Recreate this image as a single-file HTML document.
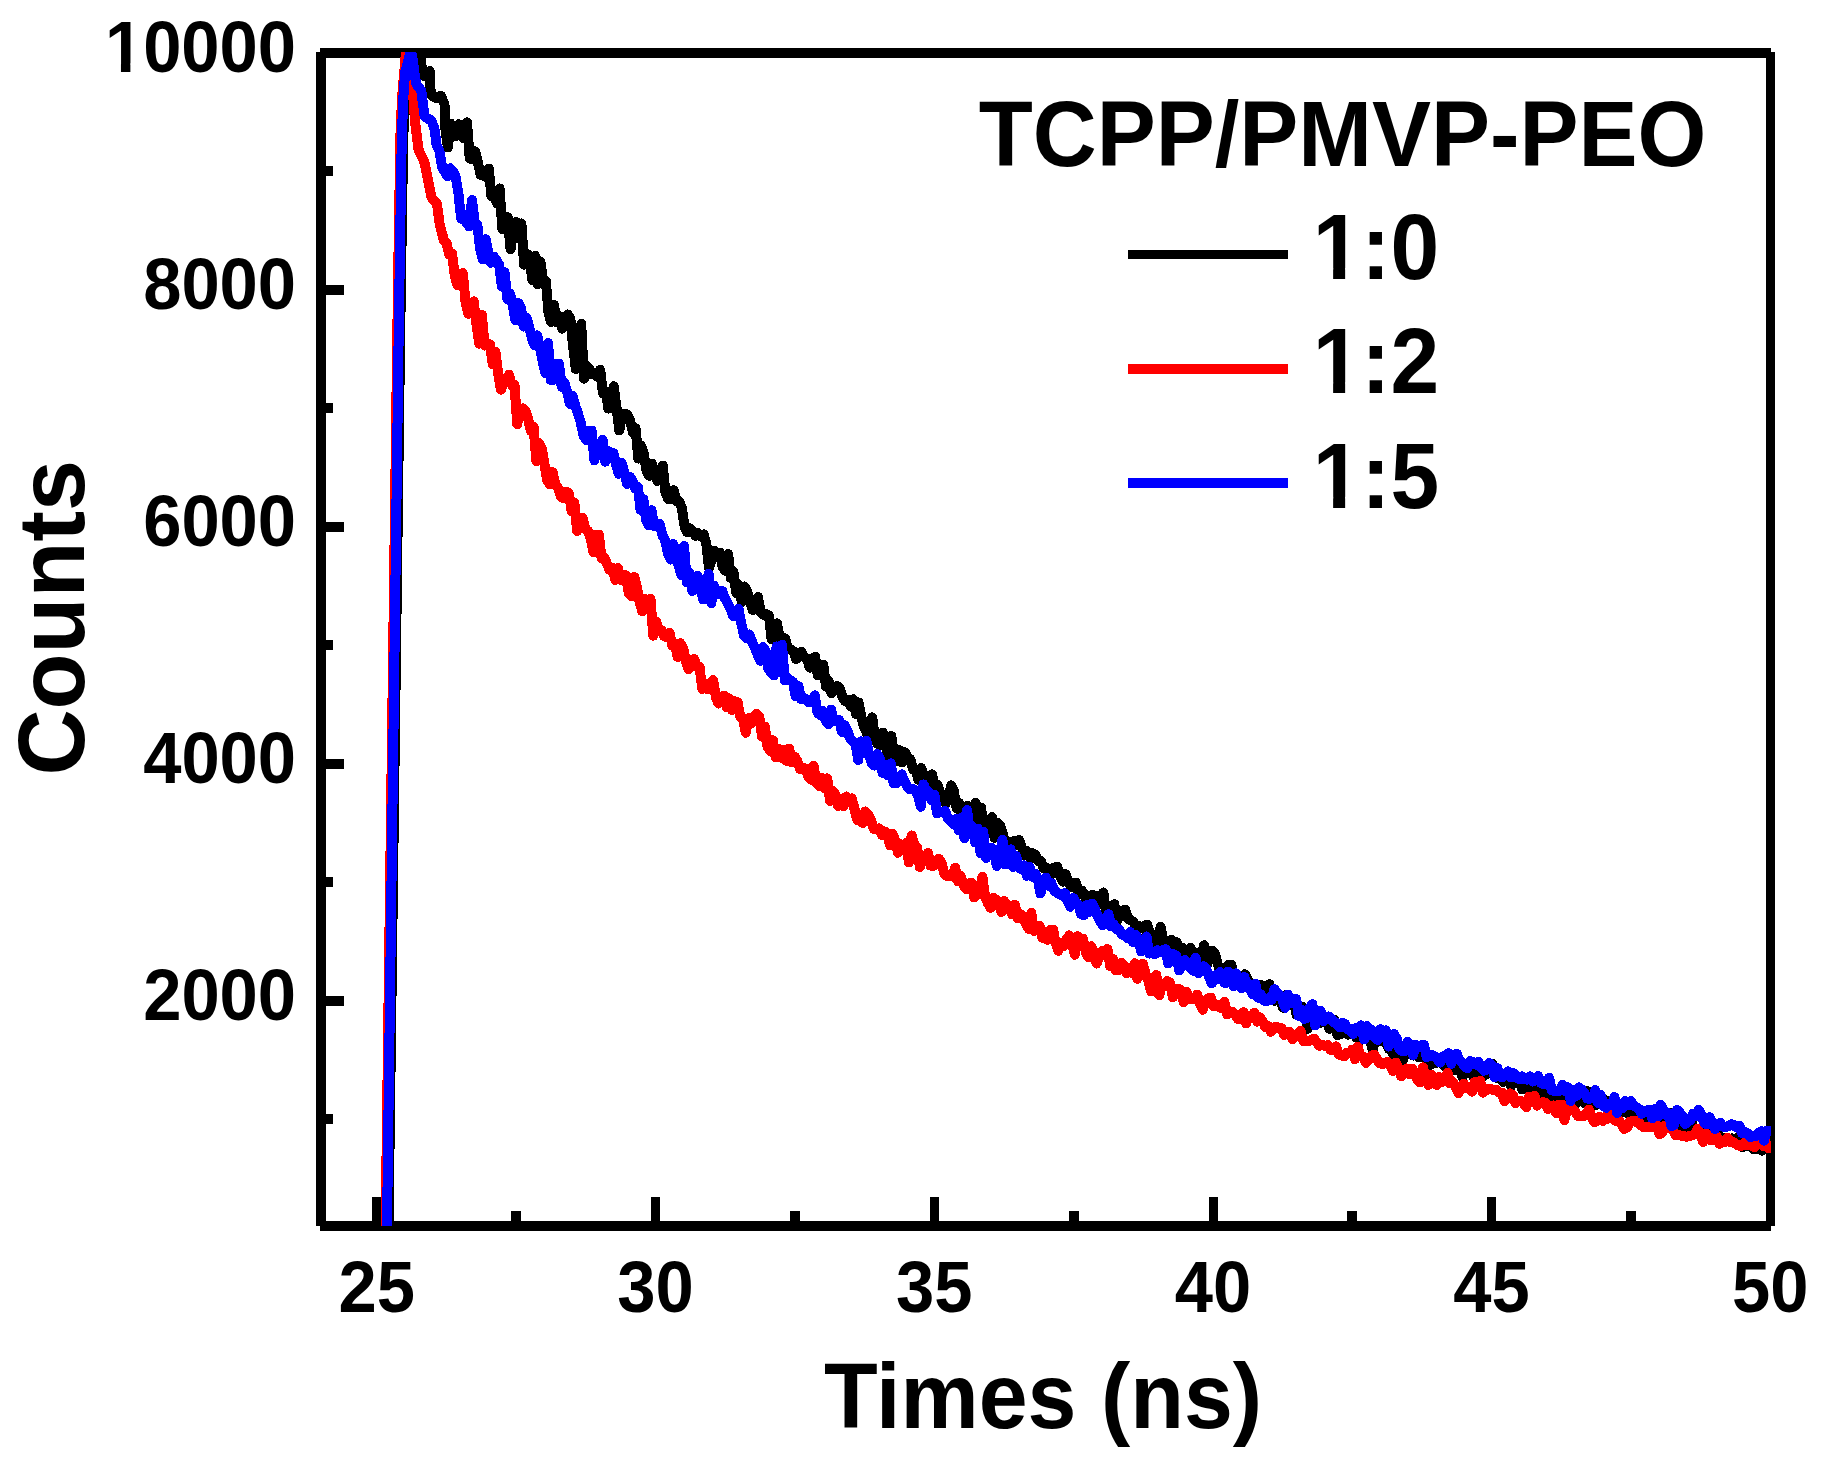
<!DOCTYPE html>
<html><head><meta charset="utf-8"><title>TCPP/PMVP-PEO decay</title>
<style>html,body{margin:0;padding:0;background:#fff;}svg{display:block;}</style></head>
<body>
<svg width="1823" height="1463" viewBox="0 0 1823 1463" font-family='"Liberation Sans", Arial, Helvetica, sans-serif' font-weight="700" fill="#000">
<rect width="1823" height="1463" fill="#fff"/>
<defs><clipPath id="pc"><rect x="321" y="52" width="1450" height="1174"/></clipPath></defs>
<g fill="#000" shape-rendering="crispEdges">
<rect x="316" y="52" width="10" height="1174"/>
<rect x="320" y="48" width="1451" height="10"/>
<rect x="1766" y="52" width="9" height="1174"/>
<rect x="320" y="1221" width="1451" height="10"/>
<rect x="326" y="285.0" width="18" height="10"/>
<rect x="326" y="522.0" width="18" height="10"/>
<rect x="326" y="759.0" width="18" height="10"/>
<rect x="326" y="996.0" width="18" height="10"/>
<rect x="326" y="166.0" width="7" height="10"/>
<rect x="326" y="403.0" width="7" height="10"/>
<rect x="326" y="640.0" width="7" height="10"/>
<rect x="326" y="877.0" width="7" height="10"/>
<rect x="326" y="1114.0" width="7" height="10"/>
<rect x="372" y="1197" width="9" height="24"/>
<rect x="651" y="1197" width="9" height="24"/>
<rect x="930" y="1197" width="9" height="24"/>
<rect x="1209" y="1197" width="9" height="24"/>
<rect x="1487" y="1197" width="9" height="24"/>
<rect x="511" y="1211" width="10" height="10"/>
<rect x="790" y="1211" width="10" height="10"/>
<rect x="1069" y="1211" width="10" height="10"/>
<rect x="1347" y="1211" width="10" height="10"/>
<rect x="1626" y="1211" width="10" height="10"/>
</g>
<g font-size="72px">
<text transform="translate(296.1,72.00) scale(0.955,1.002)" text-anchor="end">10000</text>
<text transform="translate(296.1,309.00) scale(0.955,1.002)" text-anchor="end">8000</text>
<text transform="translate(296.1,546.00) scale(0.955,1.002)" text-anchor="end">6000</text>
<text transform="translate(296.1,783.00) scale(0.955,1.002)" text-anchor="end">4000</text>
<text transform="translate(296.1,1020.00) scale(0.955,1.002)" text-anchor="end">2000</text>
<text transform="translate(376.80,1311.6) scale(0.955,1.002)" text-anchor="middle">25</text>
<text transform="translate(655.50,1311.6) scale(0.955,1.002)" text-anchor="middle">30</text>
<text transform="translate(934.20,1311.6) scale(0.955,1.002)" text-anchor="middle">35</text>
<text transform="translate(1212.90,1311.6) scale(0.955,1.002)" text-anchor="middle">40</text>
<text transform="translate(1491.60,1311.6) scale(0.955,1.002)" text-anchor="middle">45</text>
<text transform="translate(1770.30,1311.6) scale(0.955,1.002)" text-anchor="middle">50</text>
</g>
<rect x="107.73" y="63.44" width="13.22" height="10.06" fill="#fff"/><rect x="130.38" y="63.44" width="12.34" height="10.06" fill="#fff"/>
<g font-size="90px">
<text transform="translate(823.92,1427.8) scale(0.9772,1.029)">Times (ns)</text>
<text transform="translate(84.0,775.62) rotate(-90) scale(1.0185,1.055)">Counts</text>
<text transform="translate(978.72,166.0) scale(0.9832,1.0339)">TCPP/PMVP-PEO</text>
<rect x="1128" y="250" width="160" height="9" fill="#000" shape-rendering="crispEdges"/>
<text transform="translate(1312.71,278.7) scale(0.9723,1.029)">1:0</text>
<rect x="1316.72" y="268.05" width="16.41" height="12.15" fill="#fff"/><rect x="1345.14" y="268.05" width="15.30" height="12.15" fill="#fff"/>
<rect x="1128" y="364" width="160" height="10" fill="#f00" shape-rendering="crispEdges"/>
<text transform="translate(1312.71,393.0) scale(0.9723,1.029)">1:2</text>
<rect x="1316.72" y="382.35" width="16.41" height="12.15" fill="#fff"/><rect x="1345.14" y="382.35" width="15.30" height="12.15" fill="#fff"/>
<rect x="1128" y="478" width="160" height="10" fill="#00f" shape-rendering="crispEdges"/>
<text transform="translate(1312.71,507.5) scale(0.9723,1.029)">1:5</text>
<rect x="1316.72" y="496.85" width="16.41" height="12.15" fill="#fff"/><rect x="1345.14" y="496.85" width="15.30" height="12.15" fill="#fff"/>
</g>
<g clip-path="url(#pc)" fill="none" stroke-width="10" stroke-linejoin="round" stroke-linecap="round" shape-rendering="crispEdges">
<path stroke="#000" d="M388.5,1226.0 L400.1,340.0 L401.6,240.0 L403.3,136.0 L406.4,81.0 L416.0,42.0 L420.9,52.0 L421.2,65.0 L424.5,76.0 L429.7,71.0 L430.5,90.0 L432.0,96.0 L436.0,98.0 L440.9,95.8 L444.5,104.3 L445.2,127.5 L447.9,147.5 L450.6,123.6 L453.4,130.4 L456.1,136.0 L458.8,124.2 L461.5,135.6 L464.2,138.5 L467.0,122.4 L469.7,158.6 L472.4,159.5 L475.1,151.3 L477.8,162.0 L480.6,175.0 L483.3,171.6 L486.0,177.0 L488.7,168.5 L491.4,196.0 L494.2,196.4 L496.9,203.2 L499.6,188.5 L502.3,228.9 L505.0,217.8 L507.8,217.3 L510.5,249.2 L513.2,231.9 L515.9,222.0 L518.6,238.6 L521.4,223.5 L524.1,264.7 L526.8,254.0 L529.5,255.5 L532.2,280.0 L535.0,255.9 L537.7,284.2 L540.4,261.5 L543.1,281.5 L545.8,280.8 L548.6,313.9 L551.3,322.1 L554.0,304.9 L556.7,322.1 L559.4,316.2 L562.2,328.7 L564.9,319.7 L567.6,314.5 L570.3,318.2 L573.0,345.3 L575.8,369.0 L578.5,353.2 L581.2,324.0 L583.9,378.7 L586.6,365.9 L589.4,368.7 L592.1,374.3 L594.8,374.6 L597.5,376.9 L600.2,369.8 L603.0,393.4 L605.7,391.6 L608.4,408.6 L611.1,397.3 L613.8,386.2 L616.6,408.4 L619.3,430.5 L622.0,414.3 L624.7,413.6 L627.4,415.0 L630.2,420.8 L632.9,432.5 L635.6,428.3 L638.3,458.6 L641.0,445.6 L643.8,453.7 L646.5,470.8 L649.2,475.7 L651.9,463.5 L654.6,472.9 L657.4,481.0 L660.1,476.4 L662.8,465.6 L665.5,492.7 L668.2,499.0 L671.0,498.6 L673.7,490.1 L676.4,500.9 L679.1,501.1 L681.8,507.8 L684.6,526.4 L687.3,532.4 L690.0,528.3 L692.7,530.9 L695.4,535.8 L698.2,533.2 L700.9,536.3 L703.6,534.4 L706.3,543.5 L709.0,567.9 L711.8,558.6 L714.5,551.0 L717.2,553.2 L719.9,552.9 L722.6,567.3 L725.4,570.7 L728.1,554.0 L730.8,578.0 L733.5,572.0 L736.2,592.9 L739.0,585.0 L741.7,602.1 L744.4,586.4 L747.1,591.3 L749.8,599.9 L752.6,609.9 L755.3,609.1 L758.0,597.0 L760.7,612.7 L763.4,614.7 L766.2,614.2 L768.9,615.6 L771.6,639.2 L774.3,624.1 L777.0,623.3 L779.8,638.9 L782.5,637.5 L785.2,638.7 L787.9,648.9 L790.6,649.3 L793.4,651.2 L796.1,659.1 L798.8,656.4 L801.5,651.9 L804.2,657.0 L807.0,658.6 L809.7,667.6 L812.4,660.0 L815.1,656.8 L817.8,675.5 L820.6,666.8 L823.3,664.8 L826.0,686.6 L828.7,680.8 L831.4,693.4 L834.2,688.0 L836.9,686.1 L839.6,687.9 L842.3,696.5 L845.0,701.2 L847.8,699.5 L850.5,706.5 L853.2,699.2 L855.9,714.1 L858.6,702.5 L861.4,717.7 L864.1,727.2 L866.8,732.9 L869.5,740.3 L872.2,717.4 L875.0,737.9 L877.7,744.0 L880.4,744.8 L883.1,732.7 L885.8,745.5 L888.6,759.2 L891.3,736.1 L894.0,753.8 L896.7,761.2 L899.4,750.0 L902.2,762.3 L904.9,752.4 L907.6,756.9 L910.3,759.3 L913.0,769.3 L915.8,769.7 L918.5,779.8 L921.2,768.1 L923.9,776.4 L926.6,786.7 L929.4,785.9 L932.1,774.3 L934.8,791.0 L937.5,784.8 L940.2,793.2 L943.0,794.7 L945.7,803.5 L948.4,797.5 L951.1,785.4 L953.8,791.0 L956.6,808.2 L959.3,803.1 L962.0,815.2 L964.7,811.1 L967.4,805.8 L970.2,820.8 L972.9,809.5 L975.6,802.7 L978.3,833.7 L981.0,807.7 L983.8,827.6 L986.5,831.6 L989.2,828.0 L991.9,817.2 L994.6,837.9 L997.4,822.7 L1000.1,825.3 L1002.8,834.0 L1005.5,843.8 L1008.2,842.3 L1011.0,847.7 L1013.7,841.0 L1016.4,844.7 L1019.1,840.0 L1021.8,847.4 L1024.6,855.5 L1027.3,851.3 L1030.0,858.4 L1032.7,853.2 L1035.4,854.9 L1038.2,861.0 L1040.9,861.2 L1043.6,868.3 L1046.3,867.4 L1049.0,879.5 L1051.8,868.4 L1054.5,870.2 L1057.2,866.6 L1059.9,875.5 L1062.6,881.6 L1065.4,874.1 L1068.1,880.4 L1070.8,887.3 L1073.5,883.6 L1076.2,882.9 L1079.0,894.3 L1081.7,890.5 L1084.4,894.3 L1087.1,901.1 L1089.8,902.7 L1092.6,895.0 L1095.3,895.7 L1098.0,902.6 L1100.7,901.8 L1103.4,892.5 L1106.2,914.2 L1108.9,908.1 L1111.6,914.3 L1114.3,904.2 L1117.0,921.2 L1119.8,911.2 L1122.5,915.9 L1125.2,909.6 L1127.9,918.8 L1130.6,920.0 L1133.4,921.9 L1136.1,927.2 L1138.8,926.4 L1141.5,933.5 L1144.2,926.2 L1147.0,924.5 L1149.7,931.8 L1152.4,937.1 L1155.1,942.2 L1157.8,940.9 L1160.6,926.9 L1163.3,941.0 L1166.0,948.8 L1168.7,941.8 L1171.4,939.7 L1174.2,945.9 L1176.9,942.4 L1179.6,950.4 L1182.3,947.9 L1185.0,957.4 L1187.8,953.5 L1190.5,947.7 L1193.2,956.7 L1195.9,960.0 L1198.6,952.6 L1201.4,954.7 L1204.1,945.3 L1206.8,965.1 L1209.5,957.8 L1212.2,950.5 L1215.0,953.9 L1217.7,964.1 L1220.4,971.0 L1223.1,967.6 L1225.8,972.2 L1228.6,964.7 L1231.3,964.8 L1234.0,978.7 L1236.7,977.9 L1239.4,976.5 L1242.2,985.2 L1244.9,974.3 L1247.6,978.7 L1250.3,988.1 L1253.0,994.0 L1255.8,985.4 L1258.5,996.0 L1261.2,985.0 L1263.9,991.6 L1266.6,990.3 L1269.4,984.2 L1272.1,995.7 L1274.8,1000.8 L1277.5,996.5 L1280.2,998.4 L1283.0,1007.7 L1285.7,995.2 L1288.4,995.5 L1291.1,1001.4 L1293.8,1000.2 L1296.6,1015.0 L1299.3,1011.1 L1302.0,1006.6 L1304.7,1009.4 L1307.4,1028.8 L1310.2,1012.5 L1312.9,1013.2 L1315.6,1020.2 L1318.3,1023.4 L1321.0,1022.7 L1323.8,1018.4 L1326.5,1018.5 L1329.2,1028.7 L1331.9,1026.7 L1334.6,1020.0 L1337.4,1035.2 L1340.1,1034.3 L1342.8,1030.3 L1345.5,1031.2 L1348.2,1034.6 L1351.0,1031.0 L1353.7,1028.6 L1356.4,1037.7 L1359.1,1029.9 L1361.8,1039.8 L1364.6,1031.7 L1367.3,1039.1 L1370.0,1039.9 L1372.7,1050.0 L1375.4,1037.2 L1378.2,1036.4 L1380.9,1041.1 L1383.6,1039.7 L1386.3,1043.2 L1389.0,1049.0 L1391.8,1051.6 L1394.5,1056.7 L1397.2,1046.3 L1399.9,1063.1 L1402.6,1060.9 L1405.4,1051.6 L1408.1,1042.7 L1410.8,1054.0 L1413.5,1055.6 L1416.2,1045.5 L1419.0,1057.4 L1421.7,1057.0 L1424.4,1055.2 L1427.1,1062.6 L1429.8,1065.2 L1432.6,1059.1 L1435.3,1063.2 L1438.0,1060.0 L1440.7,1060.1 L1443.4,1064.8 L1446.2,1067.5 L1448.9,1063.3 L1451.6,1056.5 L1454.3,1069.8 L1457.0,1060.7 L1459.8,1069.1 L1462.5,1077.1 L1465.2,1069.8 L1467.9,1065.2 L1470.6,1064.7 L1473.4,1077.1 L1476.1,1072.6 L1478.8,1075.8 L1481.5,1078.2 L1484.2,1074.6 L1487.0,1074.2 L1489.7,1072.2 L1492.4,1063.6 L1495.1,1071.2 L1497.8,1078.3 L1500.6,1078.6 L1503.3,1081.8 L1506.0,1080.3 L1508.7,1082.3 L1511.4,1085.7 L1514.2,1079.3 L1516.9,1082.6 L1519.6,1077.7 L1522.3,1089.5 L1525.0,1086.3 L1527.8,1088.9 L1530.5,1094.1 L1533.2,1092.9 L1535.9,1088.9 L1538.6,1093.2 L1541.4,1084.6 L1544.1,1093.2 L1546.8,1092.7 L1549.5,1086.2 L1552.2,1099.1 L1555.0,1091.4 L1557.7,1097.9 L1560.4,1094.1 L1563.1,1100.6 L1565.8,1102.6 L1568.6,1094.5 L1571.3,1092.3 L1574.0,1098.7 L1576.7,1103.3 L1579.4,1099.0 L1582.2,1098.6 L1584.9,1103.7 L1587.6,1091.2 L1590.3,1100.2 L1593.0,1097.9 L1595.8,1105.2 L1598.5,1101.6 L1601.2,1100.7 L1603.9,1104.3 L1606.6,1100.4 L1609.4,1106.7 L1612.1,1104.7 L1614.8,1106.5 L1617.5,1105.7 L1620.2,1112.7 L1623.0,1109.4 L1625.7,1112.5 L1628.4,1113.0 L1631.1,1108.8 L1633.8,1114.8 L1636.6,1114.7 L1639.3,1115.4 L1642.0,1113.4 L1644.7,1114.1 L1647.4,1119.5 L1650.2,1125.6 L1652.9,1115.1 L1655.6,1121.0 L1658.3,1118.5 L1661.0,1123.6 L1663.8,1123.1 L1666.5,1126.2 L1669.2,1112.7 L1671.9,1121.6 L1674.6,1121.0 L1677.4,1125.0 L1680.1,1123.6 L1682.8,1124.6 L1685.5,1130.2 L1688.2,1135.4 L1691.0,1119.1 L1693.7,1128.9 L1696.4,1131.9 L1699.1,1131.6 L1701.8,1131.1 L1704.6,1128.3 L1707.3,1130.6 L1710.0,1137.2 L1712.7,1139.2 L1715.4,1136.5 L1718.2,1134.0 L1720.9,1138.0 L1723.6,1137.6 L1726.3,1141.1 L1729.0,1140.3 L1731.8,1138.5 L1734.5,1142.0 L1737.2,1138.1 L1739.9,1145.5 L1742.6,1147.4 L1745.4,1140.2 L1748.1,1146.1 L1750.8,1142.0 L1753.5,1149.4 L1756.2,1149.4 L1759.0,1146.2 L1761.7,1150.6 L1764.4,1146.4 L1767.1,1146.1 L1769.8,1146.7 L1772.6,1148.4"/>
<path stroke="#f00" d="M385.6,1226.0 L397.2,340.0 L398.7,240.0 L400.4,136.0 L402.0,98.0 L406.0,52.0 L407.5,36.0 L409.5,55.0 L413.5,100.0 L415.1,122.0 L418.5,149.4 L424.7,163.0 L427.4,176.8 L431.5,197.3 L437.0,204.0 L439.7,224.6 L443.8,240.0 L446.5,242.7 L449.2,254.6 L452.0,253.3 L454.7,275.2 L457.4,285.1 L460.1,275.9 L462.8,273.0 L465.6,302.6 L468.3,313.7 L471.0,306.6 L473.7,301.4 L476.4,324.2 L479.2,343.7 L481.9,314.9 L484.6,345.6 L487.3,343.8 L490.0,344.4 L492.8,364.3 L495.5,351.9 L498.2,373.9 L500.9,389.7 L503.6,383.7 L506.4,378.5 L509.1,374.8 L511.8,385.1 L514.5,384.8 L517.2,424.1 L520.0,411.0 L522.7,408.3 L525.4,411.0 L528.1,418.5 L530.8,430.9 L533.6,427.0 L536.3,461.0 L539.0,443.0 L541.7,448.1 L544.4,463.9 L547.2,480.2 L549.9,484.2 L552.6,472.0 L555.3,484.0 L558.0,487.9 L560.8,496.2 L563.5,498.3 L566.2,491.6 L568.9,493.3 L571.6,511.1 L574.4,503.0 L577.1,531.0 L579.8,523.2 L582.5,517.7 L585.2,528.5 L588.0,531.0 L590.7,538.5 L593.4,552.3 L596.1,534.6 L598.8,534.6 L601.6,558.3 L604.3,557.3 L607.0,564.0 L609.7,570.0 L612.4,567.8 L615.2,579.9 L617.9,568.1 L620.6,579.8 L623.3,575.0 L626.0,575.4 L628.8,593.7 L631.5,596.1 L634.2,577.0 L636.9,586.9 L639.6,602.0 L642.4,611.5 L645.1,599.2 L647.8,606.3 L650.5,598.7 L653.2,635.7 L656.0,621.5 L658.7,628.6 L661.4,630.2 L664.1,636.2 L666.8,637.2 L669.6,632.9 L672.3,645.5 L675.0,643.4 L677.7,657.0 L680.4,643.3 L683.2,648.2 L685.9,661.3 L688.6,669.5 L691.3,663.1 L694.0,658.9 L696.8,666.7 L699.5,666.5 L702.2,688.9 L704.9,683.6 L707.6,689.3 L710.4,684.3 L713.1,680.1 L715.8,696.9 L718.5,703.5 L721.2,697.7 L724.0,695.6 L726.7,707.2 L729.4,698.4 L732.1,710.2 L734.8,701.3 L737.6,702.0 L740.3,716.9 L743.0,717.8 L745.7,732.7 L748.4,718.3 L751.2,723.3 L753.9,716.8 L756.6,713.7 L759.3,716.9 L762.0,736.7 L764.8,726.5 L767.5,746.6 L770.2,751.1 L772.9,740.3 L775.6,757.4 L778.4,748.7 L781.1,757.7 L783.8,749.6 L786.5,760.7 L789.2,748.5 L792.0,762.5 L794.7,756.6 L797.4,761.3 L800.1,769.2 L802.8,768.1 L805.6,768.5 L808.3,776.8 L811.0,779.7 L813.7,765.9 L816.4,782.7 L819.2,785.9 L821.9,777.8 L824.6,788.5 L827.3,778.4 L830.0,800.9 L832.8,791.0 L835.5,794.5 L838.2,806.0 L840.9,798.6 L843.6,806.2 L846.4,796.5 L849.1,802.2 L851.8,798.4 L854.5,809.0 L857.2,819.9 L860.0,816.3 L862.7,823.0 L865.4,811.5 L868.1,814.5 L870.8,819.5 L873.6,828.7 L876.3,829.2 L879.0,828.5 L881.7,834.8 L884.4,831.4 L887.2,834.2 L889.9,845.2 L892.6,834.0 L895.3,841.1 L898.0,852.8 L900.8,844.2 L903.5,850.2 L906.2,843.0 L908.9,862.2 L911.6,835.5 L914.4,844.9 L917.1,847.2 L919.8,867.0 L922.5,860.3 L925.2,858.0 L928.0,852.9 L930.7,865.7 L933.4,865.9 L936.1,862.3 L938.8,858.8 L941.6,863.2 L944.3,873.6 L947.0,876.0 L949.7,876.2 L952.4,876.5 L955.2,867.7 L957.9,881.2 L960.6,875.9 L963.3,884.6 L966.0,889.0 L968.8,883.3 L971.5,882.8 L974.2,897.4 L976.9,894.9 L979.6,890.2 L982.4,876.8 L985.1,897.1 L987.8,903.0 L990.5,907.7 L993.2,897.9 L996.0,899.7 L998.7,902.5 L1001.4,912.0 L1004.1,900.9 L1006.8,909.1 L1009.6,905.5 L1012.3,914.5 L1015.0,904.7 L1017.7,918.1 L1020.4,914.2 L1023.2,917.4 L1025.9,923.5 L1028.6,928.7 L1031.3,912.8 L1034.0,930.8 L1036.8,929.6 L1039.5,925.9 L1042.2,937.6 L1044.9,931.7 L1047.6,939.8 L1050.4,929.9 L1053.1,929.7 L1055.8,943.7 L1058.5,950.7 L1061.2,942.9 L1064.0,945.8 L1066.7,939.1 L1069.4,935.4 L1072.1,943.3 L1074.8,954.7 L1077.6,936.3 L1080.3,945.6 L1083.0,938.6 L1085.7,951.7 L1088.4,957.4 L1091.2,946.3 L1093.9,952.3 L1096.6,963.6 L1099.3,956.6 L1102.0,951.2 L1104.8,951.9 L1107.5,949.1 L1110.2,966.3 L1112.9,958.8 L1115.6,970.2 L1118.4,970.3 L1121.1,962.8 L1123.8,964.8 L1126.5,973.3 L1129.2,971.0 L1132.0,972.8 L1134.7,963.3 L1137.4,978.8 L1140.1,970.1 L1142.8,963.6 L1145.6,974.0 L1148.3,981.0 L1151.0,991.5 L1153.7,979.0 L1156.4,975.0 L1159.2,995.2 L1161.9,985.6 L1164.6,984.5 L1167.3,981.2 L1170.0,982.8 L1172.8,997.4 L1175.5,989.1 L1178.2,988.7 L1180.9,990.0 L1183.6,1002.3 L1186.4,991.8 L1189.1,999.4 L1191.8,998.5 L1194.5,999.4 L1197.2,994.5 L1200.0,1003.7 L1202.7,1009.7 L1205.4,1002.0 L1208.1,998.4 L1210.8,997.5 L1213.6,1006.3 L1216.3,1004.9 L1219.0,1006.8 L1221.7,1008.4 L1224.4,1001.7 L1227.2,1014.4 L1229.9,1012.6 L1232.6,1012.0 L1235.3,1014.6 L1238.0,1019.2 L1240.8,1015.7 L1243.5,1012.1 L1246.2,1023.4 L1248.9,1016.2 L1251.6,1015.8 L1254.4,1012.6 L1257.1,1021.6 L1259.8,1017.3 L1262.5,1021.0 L1265.2,1026.9 L1268.0,1025.8 L1270.7,1031.8 L1273.4,1029.2 L1276.1,1026.7 L1278.8,1028.1 L1281.6,1028.3 L1284.3,1035.0 L1287.0,1033.0 L1289.7,1031.9 L1292.4,1039.1 L1295.2,1036.4 L1297.9,1034.7 L1300.6,1030.6 L1303.3,1041.1 L1306.0,1041.1 L1308.8,1041.2 L1311.5,1039.8 L1314.2,1038.8 L1316.9,1042.7 L1319.6,1045.8 L1322.4,1045.0 L1325.1,1045.8 L1327.8,1045.1 L1330.5,1049.8 L1333.2,1050.2 L1336.0,1046.4 L1338.7,1054.4 L1341.4,1055.3 L1344.1,1056.2 L1346.8,1052.6 L1349.6,1053.1 L1352.3,1049.5 L1355.0,1059.2 L1357.7,1046.6 L1360.4,1055.4 L1363.2,1056.5 L1365.9,1062.8 L1368.6,1059.6 L1371.3,1056.0 L1374.0,1054.7 L1376.8,1058.6 L1379.5,1063.2 L1382.2,1063.8 L1384.9,1063.4 L1387.6,1062.0 L1390.4,1064.9 L1393.1,1071.1 L1395.8,1062.5 L1398.5,1068.3 L1401.2,1076.2 L1404.0,1072.2 L1406.7,1068.4 L1409.4,1074.1 L1412.1,1068.6 L1414.8,1072.7 L1417.6,1080.3 L1420.3,1082.5 L1423.0,1067.4 L1425.7,1078.7 L1428.4,1084.9 L1431.2,1074.7 L1433.9,1078.9 L1436.6,1085.0 L1439.3,1077.1 L1442.0,1081.9 L1444.8,1080.3 L1447.5,1073.0 L1450.2,1083.5 L1452.9,1081.9 L1455.6,1087.3 L1458.4,1093.0 L1461.1,1087.6 L1463.8,1083.8 L1466.5,1088.0 L1469.2,1087.6 L1472.0,1091.7 L1474.7,1082.0 L1477.4,1083.8 L1480.1,1080.8 L1482.8,1092.6 L1485.6,1090.7 L1488.3,1088.7 L1491.0,1089.1 L1493.7,1090.4 L1496.4,1089.6 L1499.2,1092.8 L1501.9,1092.7 L1504.6,1101.2 L1507.3,1097.5 L1510.0,1093.5 L1512.8,1095.1 L1515.5,1103.1 L1518.2,1100.7 L1520.9,1100.8 L1523.6,1103.2 L1526.4,1107.3 L1529.1,1096.7 L1531.8,1099.3 L1534.5,1096.0 L1537.2,1105.6 L1540.0,1102.8 L1542.7,1102.3 L1545.4,1102.6 L1548.1,1109.1 L1550.8,1106.4 L1553.6,1105.5 L1556.3,1113.2 L1559.0,1104.8 L1561.7,1104.6 L1564.4,1120.2 L1567.2,1109.3 L1569.9,1109.2 L1572.6,1109.1 L1575.3,1112.0 L1578.0,1116.1 L1580.8,1116.5 L1583.5,1116.3 L1586.2,1113.7 L1588.9,1109.6 L1591.6,1116.9 L1594.4,1122.2 L1597.1,1121.0 L1599.8,1116.8 L1602.5,1121.0 L1605.2,1117.1 L1608.0,1118.8 L1610.7,1114.9 L1613.4,1118.9 L1616.1,1121.1 L1618.8,1120.4 L1621.6,1124.4 L1624.3,1129.0 L1627.0,1127.4 L1629.7,1121.9 L1632.4,1120.8 L1635.2,1121.6 L1637.9,1120.9 L1640.6,1125.0 L1643.3,1126.9 L1646.0,1126.5 L1648.8,1127.0 L1651.5,1127.4 L1654.2,1126.8 L1656.9,1125.0 L1659.6,1134.4 L1662.4,1132.4 L1665.1,1125.9 L1667.8,1126.3 L1670.5,1127.9 L1673.2,1130.6 L1676.0,1135.4 L1678.7,1135.0 L1681.4,1135.7 L1684.1,1136.2 L1686.8,1136.7 L1689.6,1135.9 L1692.3,1135.3 L1695.0,1133.8 L1697.7,1128.6 L1700.4,1134.7 L1703.2,1141.9 L1705.9,1134.2 L1708.6,1134.4 L1711.3,1140.5 L1714.0,1137.8 L1716.8,1136.3 L1719.5,1143.8 L1722.2,1141.0 L1724.9,1142.0 L1727.6,1137.9 L1730.4,1142.0 L1733.1,1142.1 L1735.8,1143.9 L1738.5,1145.6 L1741.2,1146.0 L1744.0,1143.3 L1746.7,1145.5 L1749.4,1139.9 L1752.1,1146.3 L1754.8,1146.9 L1757.6,1143.8 L1760.3,1143.0 L1763.0,1145.9 L1765.7,1142.6 L1768.4,1148.2 L1771.2,1148.5 L1773.9,1144.9"/>
<path stroke="#00f" d="M387.0,1226.0 L398.6,340.0 L400.1,240.0 L401.8,136.0 L403.4,97.0 L405.1,72.7 L410.8,50.5 L412.5,58.0 L414.7,74.2 L416.2,83.8 L421.3,90.9 L422.6,101.5 L424.7,116.6 L431.5,120.7 L434.5,128.9 L436.6,145.3 L439.3,150.4 L442.0,166.8 L444.8,171.7 L447.5,176.1 L450.2,168.2 L452.9,171.5 L455.6,176.5 L458.4,193.2 L461.1,218.7 L463.8,214.4 L466.5,222.7 L469.2,226.4 L472.0,200.0 L474.7,221.7 L477.4,225.1 L480.1,249.2 L482.8,259.4 L485.6,239.2 L488.3,252.1 L491.0,262.8 L493.7,256.6 L496.4,260.2 L499.2,264.7 L501.9,286.4 L504.6,272.4 L507.3,299.3 L510.0,293.6 L512.8,306.1 L515.5,320.2 L518.2,302.9 L520.9,307.5 L523.6,326.6 L526.4,317.5 L529.1,326.3 L531.8,338.0 L534.5,345.5 L537.2,335.4 L540.0,348.1 L542.7,361.7 L545.4,373.1 L548.1,343.2 L550.8,380.1 L553.6,379.6 L556.3,363.7 L559.0,363.8 L561.7,386.8 L564.4,382.5 L567.2,392.2 L569.9,403.8 L572.6,395.9 L575.3,405.8 L578.0,413.7 L580.8,422.5 L583.5,435.9 L586.2,440.1 L588.9,430.6 L591.6,430.6 L594.4,460.5 L597.1,448.0 L599.8,450.2 L602.5,439.6 L605.2,461.7 L608.0,450.7 L610.7,457.6 L613.4,453.1 L616.1,464.6 L618.8,473.9 L621.6,462.9 L624.3,472.4 L627.0,483.9 L629.7,476.6 L632.4,480.6 L635.2,488.4 L637.9,487.1 L640.6,509.9 L643.3,499.2 L646.0,519.7 L648.8,525.4 L651.5,510.2 L654.2,525.9 L656.9,525.5 L659.6,523.8 L662.4,535.3 L665.1,540.3 L667.8,552.8 L670.5,559.5 L673.2,544.1 L676.0,553.9 L678.7,565.8 L681.4,575.0 L684.1,546.2 L686.8,582.4 L689.6,572.8 L692.3,590.9 L695.0,576.7 L697.7,576.1 L700.4,586.7 L703.2,599.4 L705.9,592.1 L708.6,574.0 L711.3,603.0 L714.0,585.6 L716.8,593.5 L719.5,594.4 L722.2,590.9 L724.9,598.3 L727.6,603.0 L730.4,608.6 L733.1,615.9 L735.8,616.0 L738.5,608.9 L741.2,622.7 L744.0,635.4 L746.7,638.2 L749.4,634.5 L752.1,641.8 L754.8,647.4 L757.6,654.7 L760.3,660.8 L763.0,647.2 L765.7,650.9 L768.4,668.6 L771.2,672.5 L773.9,675.4 L776.6,646.4 L779.3,666.9 L782.0,644.9 L784.8,680.4 L787.5,677.8 L790.2,680.5 L792.9,681.7 L795.6,696.1 L798.4,685.9 L801.1,699.2 L803.8,698.0 L806.5,699.1 L809.2,702.5 L812.0,702.4 L814.7,695.4 L817.4,712.4 L820.1,715.0 L822.8,710.8 L825.6,720.3 L828.3,724.2 L831.0,709.6 L833.7,721.1 L836.4,721.2 L839.2,720.0 L841.9,731.9 L844.6,725.2 L847.3,730.7 L850.0,738.2 L852.8,741.2 L855.5,743.3 L858.2,760.1 L860.9,741.4 L863.6,749.4 L866.4,740.6 L869.1,755.6 L871.8,763.0 L874.5,765.7 L877.2,754.1 L880.0,759.1 L882.7,773.0 L885.4,765.2 L888.1,775.4 L890.8,763.4 L893.6,783.3 L896.3,783.1 L899.0,781.3 L901.7,774.4 L904.4,781.5 L907.2,786.2 L909.9,789.4 L912.6,789.0 L915.3,790.5 L918.0,795.8 L920.8,806.7 L923.5,784.4 L926.2,791.1 L928.9,792.1 L931.6,800.4 L934.4,795.0 L937.1,813.4 L939.8,812.3 L942.5,811.9 L945.2,810.9 L948.0,818.9 L950.7,821.0 L953.4,824.1 L956.1,818.7 L958.8,830.3 L961.6,817.4 L964.3,838.3 L967.0,810.1 L969.7,829.2 L972.4,826.9 L975.2,842.5 L977.9,828.6 L980.6,853.1 L983.3,831.8 L986.0,858.0 L988.8,848.9 L991.5,847.8 L994.2,852.3 L996.9,866.0 L999.6,858.9 L1002.4,839.6 L1005.1,864.5 L1007.8,859.9 L1010.5,849.4 L1013.2,867.1 L1016.0,855.9 L1018.7,867.1 L1021.4,869.3 L1024.1,865.4 L1026.8,875.9 L1029.6,866.8 L1032.3,876.7 L1035.0,873.7 L1037.7,878.0 L1040.4,893.5 L1043.2,883.6 L1045.9,877.6 L1048.6,885.7 L1051.3,883.2 L1054.0,890.1 L1056.8,892.7 L1059.5,893.9 L1062.2,895.6 L1064.9,893.2 L1067.6,901.2 L1070.4,906.7 L1073.1,897.8 L1075.8,903.0 L1078.5,905.3 L1081.2,914.4 L1084.0,914.9 L1086.7,905.2 L1089.4,911.8 L1092.1,903.7 L1094.8,908.6 L1097.6,916.3 L1100.3,921.6 L1103.0,925.2 L1105.7,919.0 L1108.4,914.2 L1111.2,926.4 L1113.9,924.5 L1116.6,929.6 L1119.3,929.6 L1122.0,934.4 L1124.8,935.6 L1127.5,938.2 L1130.2,931.9 L1132.9,942.1 L1135.6,934.6 L1138.4,939.5 L1141.1,951.5 L1143.8,944.1 L1146.5,936.5 L1149.2,953.6 L1152.0,952.1 L1154.7,954.3 L1157.4,950.2 L1160.1,952.4 L1162.8,950.4 L1165.6,949.1 L1168.3,963.4 L1171.0,953.7 L1173.7,954.3 L1176.4,955.9 L1179.2,970.4 L1181.9,966.0 L1184.6,960.1 L1187.3,963.1 L1190.0,967.5 L1192.8,970.7 L1195.5,957.8 L1198.2,973.2 L1200.9,968.0 L1203.6,966.4 L1206.4,969.2 L1209.1,976.9 L1211.8,983.4 L1214.5,975.5 L1217.2,978.8 L1220.0,972.2 L1222.7,980.6 L1225.4,983.4 L1228.1,971.7 L1230.8,978.1 L1233.6,986.4 L1236.3,973.4 L1239.0,982.1 L1241.7,988.5 L1244.4,977.0 L1247.2,985.2 L1249.9,988.7 L1252.6,994.3 L1255.3,983.7 L1258.0,997.7 L1260.8,994.5 L1263.5,1000.4 L1266.2,1001.3 L1268.9,998.0 L1271.6,999.9 L1274.4,989.2 L1277.1,992.4 L1279.8,995.3 L1282.5,1000.0 L1285.2,1007.8 L1288.0,994.6 L1290.7,1003.4 L1293.4,999.3 L1296.1,999.2 L1298.8,1016.1 L1301.6,1010.0 L1304.3,1019.0 L1307.0,1017.7 L1309.7,1007.9 L1312.4,1004.1 L1315.2,1025.4 L1317.9,1013.7 L1320.6,1010.9 L1323.3,1021.3 L1326.0,1019.5 L1328.8,1016.4 L1331.5,1019.0 L1334.2,1022.6 L1336.9,1023.1 L1339.6,1027.5 L1342.4,1022.9 L1345.1,1023.9 L1347.8,1029.6 L1350.5,1029.0 L1353.2,1033.9 L1356.0,1028.1 L1358.7,1029.7 L1361.4,1025.4 L1364.1,1039.4 L1366.8,1026.0 L1369.6,1034.8 L1372.3,1030.3 L1375.0,1037.2 L1377.7,1040.0 L1380.4,1029.2 L1383.2,1037.1 L1385.9,1030.4 L1388.6,1046.6 L1391.3,1038.5 L1394.0,1033.9 L1396.8,1038.9 L1399.5,1049.4 L1402.2,1051.1 L1404.9,1050.9 L1407.6,1041.9 L1410.4,1045.7 L1413.1,1055.1 L1415.8,1044.7 L1418.5,1047.4 L1421.2,1045.3 L1424.0,1045.1 L1426.7,1057.1 L1429.4,1055.2 L1432.1,1055.2 L1434.8,1056.6 L1437.6,1059.5 L1440.3,1062.6 L1443.0,1056.4 L1445.7,1055.6 L1448.4,1053.3 L1451.2,1063.8 L1453.9,1057.3 L1456.6,1053.6 L1459.3,1060.1 L1462.0,1062.2 L1464.8,1066.7 L1467.5,1068.3 L1470.2,1061.3 L1472.9,1061.8 L1475.6,1064.7 L1478.4,1061.6 L1481.1,1067.3 L1483.8,1070.7 L1486.5,1069.6 L1489.2,1063.0 L1492.0,1065.7 L1494.7,1077.5 L1497.4,1068.1 L1500.1,1076.6 L1502.8,1076.9 L1505.6,1073.5 L1508.3,1071.3 L1511.0,1077.4 L1513.7,1073.3 L1516.4,1077.2 L1519.2,1079.2 L1521.9,1076.3 L1524.6,1079.2 L1527.3,1079.6 L1530.0,1076.3 L1532.8,1081.5 L1535.5,1080.4 L1538.2,1076.0 L1540.9,1083.1 L1543.6,1084.0 L1546.4,1083.3 L1549.1,1077.8 L1551.8,1090.5 L1554.5,1090.8 L1557.2,1091.3 L1560.0,1090.6 L1562.7,1084.7 L1565.4,1091.1 L1568.1,1087.4 L1570.8,1101.0 L1573.6,1090.4 L1576.3,1096.0 L1579.0,1087.4 L1581.7,1089.6 L1584.4,1092.9 L1587.2,1098.6 L1589.9,1098.6 L1592.6,1098.2 L1595.3,1090.1 L1598.0,1102.9 L1600.8,1095.2 L1603.5,1106.1 L1606.2,1107.7 L1608.9,1104.2 L1611.6,1105.4 L1614.4,1097.0 L1617.1,1113.1 L1619.8,1104.2 L1622.5,1108.0 L1625.2,1101.2 L1628.0,1105.0 L1630.7,1101.1 L1633.4,1105.5 L1636.1,1107.1 L1638.8,1108.7 L1641.6,1113.7 L1644.3,1110.7 L1647.0,1110.4 L1649.7,1110.2 L1652.4,1118.4 L1655.2,1109.0 L1657.9,1116.4 L1660.6,1104.8 L1663.3,1109.5 L1666.0,1115.1 L1668.8,1113.4 L1671.5,1126.1 L1674.2,1125.0 L1676.9,1109.9 L1679.6,1112.2 L1682.4,1116.2 L1685.1,1123.9 L1687.8,1122.1 L1690.5,1119.6 L1693.2,1113.6 L1696.0,1116.3 L1698.7,1109.9 L1701.4,1114.7 L1704.1,1122.6 L1706.8,1124.5 L1709.6,1117.2 L1712.3,1123.0 L1715.0,1129.1 L1717.7,1124.2 L1720.4,1123.0 L1723.2,1126.9 L1725.9,1127.1 L1728.6,1126.0 L1731.3,1124.3 L1734.0,1125.2 L1736.8,1127.6 L1739.5,1125.8 L1742.2,1133.1 L1744.9,1132.0 L1747.6,1133.3 L1750.4,1137.1 L1753.1,1136.1 L1755.8,1136.0 L1758.5,1132.8 L1761.2,1131.3 L1764.0,1140.7 L1766.7,1130.7 L1769.4,1131.5 L1772.1,1131.2"/>
</g>
</svg>
</body></html>
